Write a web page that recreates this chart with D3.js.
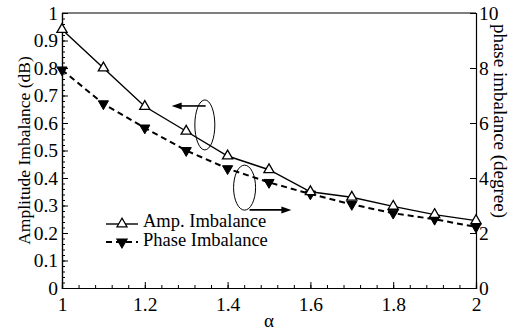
<!DOCTYPE html>
<html><head><meta charset="utf-8">
<script src="https://cdn.jsdelivr.net/npm/d3@7"></script>
<style>
html,body{margin:0;padding:0;background:#fff;}
svg{display:block;}
svg text{font-family:"Liberation Serif","Times New Roman",serif;fill:#000;}
</style></head>
<body>
<script>
const alpha = [1.0, 1.1, 1.2, 1.3, 1.4, 1.5, 1.6, 1.7, 1.8, 1.9, 2.0];
const ampImbalance = [0.94, 0.80, 0.66, 0.57, 0.48, 0.43, 0.35, 0.33, 0.297, 0.267, 0.245];
const phaseImbalance = [7.93, 6.70, 5.82, 5.00, 4.34, 3.84, 3.42, 3.04, 2.72, 2.50, 2.22];
const xTicks = [1, 1.2, 1.4, 1.6, 1.8, 2];
const yLeftTicks = [0, 0.1, 0.2, 0.3, 0.4, 0.5, 0.6, 0.7, 0.8, 0.9, 1];
const yRightTicks = [0, 2, 4, 6, 8, 10];
const seriesNames = ["Amp. Imbalance", "Phase Imbalance"];

const W = 511, H = 332;
const m = {l: 62, r: 35, t: 13, b: 44};
const FONT = '"Liberation Serif","Times New Roman",serif';
const svg = d3.select("body").append("svg").attr("width", W).attr("height", H);

const x = d3.scaleLinear().domain([1, 2]).range([m.l, W - m.r]);
const yL = d3.scaleLinear().domain([0, 1]).range([H - m.b, m.t]);
const yR = d3.scaleLinear().domain([0, 10]).range([H - m.b, m.t]);

const fs = 19.5;
svg.append("line").attr("x1", x(1)).attr("x2", x(2)).attr("y1", yL(1)).attr("y2", yL(1))
  .attr("stroke", "#000").attr("stroke-width", 1.2);

const gx = svg.append("g").attr("transform", `translate(0,${yL(0)})`);
gx.call(d3.axisBottom(x).tickValues(d3.range(1, 2.0001, 0.04)).tickSize(-3).tickFormat(""));
gx.append("g").call(d3.axisBottom(x).tickValues(xTicks).tickSize(-6).tickPadding(9).tickFormat(d3.format("~g")));

const gl = svg.append("g").attr("transform", `translate(${x(1)},0)`);
gl.call(d3.axisLeft(yL).tickValues(d3.range(0, 1.0001, 0.02)).tickSize(-3).tickFormat(""));
gl.append("g").call(d3.axisLeft(yL).tickValues(yLeftTicks).tickSize(-6).tickPadding(4).tickFormat(d3.format("~g")));

const gr = svg.append("g").attr("transform", `translate(${x(2)},0)`);
gr.call(d3.axisRight(yR).tickValues(yRightTicks).tickSize(-6).tickPadding(3).tickFormat(d3.format("~g")));

svg.selectAll("g").attr("font-family", FONT).attr("font-size", fs);
svg.selectAll(".tick text").attr("font-size", fs).style("font-family", FONT);
svg.selectAll(".domain").attr("stroke", "#000").attr("stroke-width", 1.2);
svg.selectAll(".tick line").attr("stroke", "#000").attr("stroke-width", 1);

svg.append("text").attr("transform", `translate(24,${(yL(0) + yL(1)) / 2}) rotate(-90)`)
  .attr("text-anchor", "middle").attr("dominant-baseline", "central").attr("font-size", 17.5)
  .style("font-family", FONT).text("Amplitude Imbalance (dB)");
svg.append("text").attr("transform", `translate(500,121) rotate(90)`)
  .attr("text-anchor", "middle").attr("dominant-baseline", "central").attr("font-size", 19)
  .style("font-family", FONT).text("phase imbalance (degree)");
svg.append("text").attr("x", 269).attr("y", 327).attr("text-anchor", "middle")
  .attr("font-size", 19).style("font-family", FONT).text("α");

const data = alpha.map((a, i) => ({a, amp: ampImbalance[i], ph: phaseImbalance[i]}));
svg.append("path").datum(data).attr("fill", "none").attr("stroke", "#000").attr("stroke-width", 2)
  .attr("stroke-dasharray", "6,4")
  .attr("d", d3.line().x(d => x(d.a)).y(d => yR(d.ph)));
svg.append("path").datum(data).attr("fill", "none").attr("stroke", "#000").attr("stroke-width", 1.4)
  .attr("d", d3.line().x(d => x(d.a)).y(d => yL(d.amp)));

const triUp = d3.symbol().type(d3.symbolTriangle).size(45);
svg.selectAll(".ph").data(data).enter().append("path")
  .attr("transform", d => `translate(${x(d.a)},${yR(d.ph)}) rotate(180)`)
  .attr("d", triUp).attr("fill", "#000").attr("stroke", "#000").attr("stroke-width", 1);
svg.selectAll(".am").data(data).enter().append("path")
  .attr("transform", d => `translate(${x(d.a)},${yL(d.amp)})`)
  .attr("d", triUp).attr("fill", "#fff").attr("stroke", "#000").attr("stroke-width", 1.3);

function arrow(x1, x2, yv) {
  const X1 = x(x1), X2 = x(x2), Y = yL(yv);
  const dir = Math.sign(X2 - X1);
  svg.append("line").attr("x1", X1).attr("x2", X2 - dir * 8).attr("y1", Y).attr("y2", Y)
    .attr("stroke", "#000").attr("stroke-width", 1.6);
  svg.append("path").attr("d", `M${X2},${Y} L${X2 - dir * 10},${Y - 3.5} L${X2 - dir * 10},${Y + 3.5} Z`)
    .attr("fill", "#000");
}
svg.append("ellipse").attr("cx", x(1.345)).attr("cy", yL(0.593)).attr("rx", 10).attr("ry", 25)
  .attr("fill", "none").attr("stroke", "#000").attr("stroke-width", 1);
arrow(1.347, 1.265, 0.662);
svg.append("ellipse").attr("cx", x(1.441)).attr("cy", yL(0.365)).attr("rx", 11).attr("ry", 22.5)
  .attr("fill", "none").attr("stroke", "#000").attr("stroke-width", 1);
arrow(1.453, 1.554, 0.284);

const lg = svg.append("g");
[0, 1].forEach(i => {
  const yy = i ? 242 : 224;
  lg.append("line").attr("x1", 106).attr("x2", 138).attr("y1", yy).attr("y2", yy)
    .attr("stroke", "#000").attr("stroke-width", i ? 2 : 1.4).attr("stroke-dasharray", i ? "6,4" : null);
  lg.append("path").attr("transform", `translate(122,${yy}) ${i ? "rotate(180)" : ""}`).attr("d", triUp)
    .attr("fill", i ? "#000" : "#fff").attr("stroke", "#000").attr("stroke-width", 1.2);
  lg.append("text").attr("x", 143).attr("y", i ? 246 : 227)
    .attr("font-size", 18.5).style("font-family", FONT).text(seriesNames[i]);
});
</script>
</body></html>
